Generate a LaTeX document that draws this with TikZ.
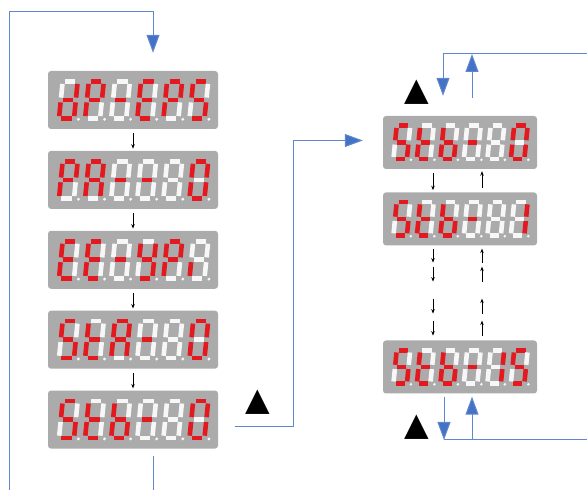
\documentclass[tikz,border=0pt]{standalone}
\usepackage{fontspec}
\usepackage{xcolor}
\usepackage{tikz}
\usetikzlibrary{positioning,arrows.meta,calc}
\newfontfamily\symfont{DejaVu Sans}
\definecolor{ledRed}{HTML}{E3191F}
\definecolor{ledOff}{HTML}{F7F7F7}
\definecolor{ledGray}{HTML}{ABABAB}
\definecolor{keyBlue}{HTML}{4472C4}
\tikzset{
  led-panel/.style={fill=ledGray, rounded corners=3pt, inner sep=0pt,
    minimum width=170pt, minimum height=58pt},
  led-panel-s/.style={led-panel, minimum width=154pt, minimum height=53pt},
  led-seg/.code={\ifnum#1=1 \pgfkeysalso{draw=ledRed}\else\pgfkeysalso{draw=ledOff}\fi},
  led-flow/.style={-{Stealth[length=4.5pt,width=3.5pt]}, line width=0.7pt, draw=black},
  led-link/.style={led-flow, shorten <=4pt, shorten >=2pt},
  key-line/.style={line width=1pt, draw=keyBlue!85},
  key-flow/.style={key-line, -{Triangle[length=18pt,width=13pt,fill=keyBlue]}},
  key-up/.style={font=\symfont\fontsize{32}{32}\selectfont, inner sep=0pt}
}
% one seven-segment digit: #1 position, #2..#8 segments a..g
\newcommand\ledDigit[8]{%
  \begin{scope}[xshift=#1*26.1pt, xslant=0.1, line width=4.6pt]
    \draw[led-seg=#2] (2.4,37) -- (12.6,37);
    \draw[led-seg=#3] (15,34.6) -- (15,20.9);
    \draw[led-seg=#4] (15,16.1) -- (15,2.4);
    \draw[led-seg=#5] (2.4,0) -- (12.6,0);
    \draw[led-seg=#6] (0,2.4) -- (0,16.1);
    \draw[led-seg=#7] (0,20.9) -- (0,34.6);
    \draw[led-seg=#8] (2.4,18.5) -- (12.6,18.5);
    \fill[ledOff] (19.5,-0.8) circle (1.6);
  \end{scope}}
\newcommand\ledD[1]{\ledDigit{#1}{0}{1}{1}{1}{1}{0}{1}}
\newcommand\ledP[1]{\ledDigit{#1}{1}{1}{0}{0}{1}{1}{1}}
\newcommand\ledDash[1]{\ledDigit{#1}{0}{0}{0}{0}{0}{0}{1}}
\newcommand\ledE[1]{\ledDigit{#1}{1}{0}{0}{1}{1}{1}{1}}
\newcommand\ledS[1]{\ledDigit{#1}{1}{0}{1}{1}{0}{1}{1}}
\newcommand\ledA[1]{\ledDigit{#1}{1}{1}{1}{0}{1}{1}{1}}
\newcommand\ledO[1]{\ledDigit{#1}{1}{1}{1}{1}{1}{1}{0}}
\newcommand\ledBlank[1]{\ledDigit{#1}{0}{0}{0}{0}{0}{0}{0}}
\newcommand\ledY[1]{\ledDigit{#1}{0}{1}{1}{1}{0}{1}{1}}
\newcommand\ledI[1]{\ledDigit{#1}{0}{0}{0}{0}{1}{0}{0}}
\newcommand\ledT[1]{\ledDigit{#1}{0}{0}{0}{1}{1}{1}{1}}
\newcommand\ledB[1]{\ledDigit{#1}{0}{0}{1}{1}{1}{1}{1}}
\newcommand\ledOne[1]{\ledDigit{#1}{0}{1}{1}{0}{0}{0}{0}}
\begin{document}
\begin{tikzpicture}[x=1pt, y=1pt, node distance=21.5pt]
\path[use as bounding box, clip] (0,0) rectangle (587,490);

% Left column
\node[led-panel] (p1) at (133,390) {};
\node[led-panel, below=of p1] (p2) {};
\node[led-panel, below=of p2] (p3) {};
\node[led-panel, below=of p3] (p4) {};
\node[led-panel, below=of p4] (p5) {};

% Right column
\node[led-panel-s] (q1) at (460,347.5) {};
\node[led-panel-s, below=23pt of q1] (q2) {};
\node[led-panel-s] (q3) at (460,123) {};

% Digits
\begin{scope}[shift={($(p1.center)+(-74,-18.5)$)}]
  \ledD0 \ledP1 \ledDash2 \ledE3 \ledP4 \ledS5
\end{scope}
\begin{scope}[shift={($(p2.center)+(-74,-18.5)$)}]
  \ledP0 \ledA1 \ledDash2 \ledDash3 \ledBlank4 \ledO5
\end{scope}
\begin{scope}[shift={($(p3.center)+(-74,-18.5)$)}]
  \ledE0 \ledE1 \ledDash2 \ledY3 \ledP4 \ledI5
\end{scope}
\begin{scope}[shift={($(p4.center)+(-74,-18.5)$)}]
  \ledS0 \ledT1 \ledA2 \ledDash3 \ledBlank4 \ledO5
\end{scope}
\begin{scope}[shift={($(p5.center)+(-74,-18.5)$)}]
  \ledS0 \ledT1 \ledB2 \ledDash3 \ledBlank4 \ledO5
\end{scope}
\begin{scope}[shift={($(q1.center)+(-66.6,-16.6)$)}, scale=0.9]
  \ledS0 \ledT1 \ledB2 \ledDash3 \ledBlank4 \ledO5
\end{scope}
\begin{scope}[shift={($(q2.center)+(-66.6,-16.6)$)}, scale=0.9]
  \ledS0 \ledT1 \ledB2 \ledDash3 \ledBlank4 \ledOne5
\end{scope}
\begin{scope}[shift={($(q3.center)+(-66.6,-16.6)$)}, scale=0.9]
  \ledS0 \ledT1 \ledB2 \ledDash3 \ledOne4 \ledS5
\end{scope}

% Step arrows
\draw[led-link] (p1) -- (p2);
\draw[led-link] (p2) -- (p3);
\draw[led-link] (p3) -- (p4);
\draw[led-link] (p4) -- (p5);
\draw[led-link] ([xshift=-27pt]q1.south) -- ([xshift=-27pt]q2.north);
\draw[led-link] ([xshift=22pt]q2.north) -- ([xshift=22pt]q1.south);
\foreach \a/\b in {3/17, 21/36, 53/68, 75/90} {
  \draw[led-flow] ([xshift=-27pt,yshift=-\a pt]q2.south) -- ([xshift=-27pt,yshift=-\b pt]q2.south);
  \draw[led-flow] ([xshift=22pt,yshift=-\b pt]q2.south) -- ([xshift=22pt,yshift=-\a pt]q2.south);
}

% Key loops
\coordinate (lb) at (9,-6);
\coordinate (lt) at (9,478);
\coordinate (rt) at (600,436);
\coordinate (rb) at (600,50);
\draw[key-flow] ([xshift=20pt,yshift=-7pt]p5.south) |- (lb) -- (lt)
  -| ([xshift=20pt,yshift=18pt]p1.north);
\draw[key-flow] ([xshift=17pt,yshift=-7pt]p5.east) -- ++(58,0)
  |- ([xshift=-20pt,yshift=2pt]q1.west);
\draw[key-flow] (rt) -| ([xshift=-17pt,yshift=20pt]q1.north);
\draw[key-flow] ([xshift=12pt,yshift=18pt]q1.north) -- ([xshift=12pt]q1.north |- rt);
\draw[key-flow] ([xshift=-16pt,yshift=-3pt]q3.south) -- ([xshift=-16pt]q3.south |- rb);
\draw[key-line] ([xshift=-16pt]q3.south |- rb) -- (rb);
\draw[key-flow] ([xshift=12pt]q3.south |- rb) -- ([xshift=12pt,yshift=-3pt]q3.south);

% Up keys
\node[key-up] (upL) at (258,88) {▲};
\node[key-up] (upT) at (417,398) {▲};
\node[key-up] (upB) at (417,63) {▲};
\end{tikzpicture}
\end{document}
